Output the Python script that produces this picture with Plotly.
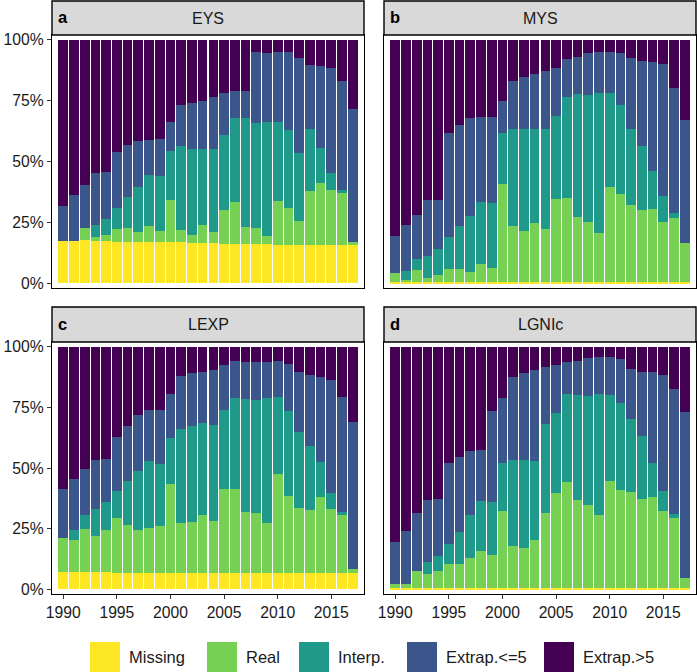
import plotly.graph_objects as go

years = list(range(1990, 2018))
categories = ["Missing", "Real", "Interp.", "Extrap.<=5", "Extrap.>5"]
colors = ["#FDE725", "#75D054", "#1F9A8A", "#3B568B", "#440154"]
panel_tags = ["a", "b", "c", "d"]
panel_titles = ["EYS", "MYS", "LEXP", "LGNIc"]
x_tickvals = [1990, 1995, 2000, 2005, 2010, 2015]
y_tickvals = [0, 25, 50, 75, 100]
y_ticktext = ["0%", "25%", "50%", "75%", "100%"]

# ---- EYS (percent shares) ----
eys_missing = [17.5, 17.3, 17.8, 17.5, 17.5, 17.1, 17.1, 17.1, 17.1, 16.8, 16.8, 16.8, 16.7, 16.6,
               16.4, 16.2, 16.2, 16.2, 16.2, 16.2, 15.8, 15.8, 15.8, 15.8, 15.8, 15.8, 15.6, 15.5]
eys_real = [0.0, 0.0, 4.8, 1.3, 2.4, 5.1, 5.5, 3.9, 6.5, 4.8, 17.4, 5.1, 3.2, 7.2,
            4.5, 13.8, 17.0, 6.7, 6.4, 3.1, 18.1, 15.1, 9.8, 22.2, 25.4, 22.5, 21.3, 1.5]
eys_interp = [0.0, 0.0, 0.0, 4.9, 6.4, 8.6, 13.0, 18.5, 20.9, 22.5, 20.3, 34.3, 35.3, 31.4,
              34.3, 31.0, 34.7, 45.0, 43.2, 47.1, 32.5, 32.1, 28.1, 25.3, 14.3, 6.9, 1.4, 0.0]
eys_ext5 = [14.3, 19.0, 17.9, 21.5, 19.2, 23.3, 21.2, 19.1, 14.4, 15.2, 11.8, 17.1, 18.8, 19.8,
            21.2, 17.1, 11.2, 11.2, 29.1, 28.3, 28.6, 32.0, 39.0, 26.4, 33.8, 43.1, 44.6, 54.6]
eys_extgt5 = [68.2, 63.7, 59.5, 54.8, 54.5, 45.9, 43.2, 41.4, 41.1, 40.7, 33.7, 26.7, 26.0, 25.0,
              23.6, 21.9, 20.9, 20.9, 5.1, 5.3, 5.0, 5.0, 7.3, 10.3, 10.7, 11.7, 17.1, 28.4]

# ---- MYS ----
mys_missing = [0.6] * 28
mys_real = [3.5, 0.8, 4.9, 1.5, 2.6, 5.2, 5.4, 4.1, 7.3, 5.8, 40.1, 22.8, 21.0, 24.3,
            21.5, 34.1, 34.5, 26.7, 24.7, 20.2, 38.9, 36.0, 31.5, 29.5, 29.9, 24.6, 26.2, 15.8]
mys_interp = [0.0, 3.7, 4.5, 9.1, 10.8, 13.0, 17.6, 23.0, 25.5, 26.6, 20.9, 39.8, 41.6, 38.3,
              41.2, 34.1, 41.3, 50.4, 52.1, 57.4, 38.7, 36.7, 31.1, 26.3, 15.8, 10.7, 2.1, 0.0]
mys_ext5 = [15.1, 18.9, 18.1, 22.8, 20.2, 43.1, 41.5, 40.0, 35.0, 35.5, 13.3, 19.8, 21.6, 22.6,
            23.7, 19.7, 15.7, 15.3, 17.0, 16.9, 16.9, 21.5, 29.5, 35.0, 44.7, 54.0, 51.4, 50.7]
mys_extgt5 = [80.8, 76.0, 71.9, 66.0, 65.8, 38.1, 34.9, 32.3, 31.6, 31.5, 25.1, 17.0, 15.2, 14.2,
              13.0, 11.5, 7.9, 7.0, 5.6, 4.9, 4.9, 5.2, 7.3, 8.6, 9.0, 10.1, 19.7, 32.9]

# ---- LEXP ----
lexp_missing = [6.9, 6.9, 6.9, 6.9, 6.9, 6.8, 6.8, 6.8, 6.7, 6.7, 6.7, 6.7, 6.7, 6.6,
                6.6, 6.7, 6.8, 6.8, 6.8, 6.7, 6.7, 6.7, 6.7, 6.7, 6.7, 6.7, 6.6, 6.6]
lexp_real = [14.3, 13.3, 17.9, 15.0, 17.4, 22.6, 19.6, 17.5, 18.6, 19.4, 36.5, 20.8, 21.1, 23.9,
             21.5, 34.8, 34.5, 25.0, 24.7, 20.7, 40.8, 31.7, 26.6, 25.9, 31.4, 26.3, 23.9, 1.7]
lexp_interp = [0.0, 4.4, 5.7, 11.0, 11.7, 11.0, 18.2, 24.4, 27.4, 25.5, 19.0, 38.5, 39.7, 37.9,
               39.6, 32.4, 37.7, 46.6, 46.5, 51.6, 31.6, 35.1, 31.6, 26.5, 14.2, 6.5, 1.4, 0.0]
lexp_ext5 = [20.1, 20.7, 18.9, 20.6, 17.9, 22.5, 22.7, 23.1, 21.2, 22.3, 18.5, 21.9, 21.6, 21.4,
             22.7, 18.5, 15.1, 15.4, 15.8, 14.8, 15.0, 19.6, 24.6, 29.2, 35.3, 47.0, 47.5, 60.5]
lexp_extgt5 = [58.7, 54.7, 50.6, 46.5, 46.1, 37.1, 32.7, 28.2, 26.1, 26.1, 19.3, 12.1, 10.9, 10.2,
               9.6, 7.6, 5.9, 6.2, 6.2, 6.2, 5.9, 6.9, 10.5, 11.7, 12.4, 13.5, 20.6, 31.2]

# ---- LGNIc ----
lgni_missing = [0.6] * 28
lgni_real = [1.7, 1.7, 7.0, 5.6, 6.8, 9.6, 9.6, 12.1, 15.2, 13.4, 31.7, 17.1, 16.5, 19.5,
             30.9, 39.2, 43.6, 36.4, 34.3, 29.9, 44.1, 40.3, 39.6, 36.8, 37.4, 31.7, 28.8, 4.2]
lgni_interp = [0.0, 0.0, 0.0, 4.9, 6.2, 8.6, 13.2, 18.1, 20.5, 22.0, 19.8, 35.5, 36.1, 32.9,
               36.5, 32.7, 36.3, 43.1, 44.7, 50.0, 35.4, 36.0, 30.0, 25.7, 14.0, 8.1, 1.8, 0.0]
lgni_ext5 = [17.1, 21.5, 23.9, 25.9, 23.5, 33.1, 31.2, 26.4, 21.3, 37.5, 26.9, 34.4, 36.1, 37.4,
             23.6, 20.1, 13.3, 14.0, 15.9, 15.4, 15.8, 18.0, 20.7, 26.7, 37.7, 47.8, 51.2, 68.4]
lgni_extgt5 = [80.6, 76.2, 68.5, 63.0, 62.9, 48.1, 45.4, 42.8, 42.4, 26.5, 21.0, 12.4, 10.7, 9.6,
               8.4, 7.4, 6.2, 5.9, 4.5, 4.1, 4.1, 5.1, 9.1, 10.2, 10.3, 11.8, 17.6, 26.8]

panels = [
    [eys_missing, eys_real, eys_interp, eys_ext5, eys_extgt5],
    [mys_missing, mys_real, mys_interp, mys_ext5, mys_extgt5],
    [lexp_missing, lexp_real, lexp_interp, lexp_ext5, lexp_extgt5],
    [lgni_missing, lgni_real, lgni_interp, lgni_ext5, lgni_extgt5],
]

W, H = 697, 672
FONT = "Liberation Sans, Arial, Helvetica, sans-serif"
TXT = "#1a1a1a"

# pixel layout of panels (left, right), (top, bottom, strip top)
px_cols = [(52, 364), (384, 696)]
px_rows = [(35, 288, 1), (342, 594, 307)]

fig = go.Figure()
layout = dict(
    width=W, height=H,
    margin=dict(l=0, r=0, t=0, b=0, pad=0, autoexpand=False),
    paper_bgcolor="white", plot_bgcolor="white",
    barmode="stack", bargap=0.1,
    showlegend=False,
    font=dict(family=FONT, color=TXT, size=15.7),
)
shapes = []
annotations = []

for i in range(4):
    r, c = divmod(i, 2)
    xl, xr = px_cols[c]
    yt, yb, st = px_rows[r]
    suffix = "" if i == 0 else str(i + 1)
    xname, yname = "x" + suffix, "y" + suffix
    for k, cat in enumerate(categories):
        fig.add_trace(go.Bar(
            x=years, y=panels[i][k], name=cat,
            marker=dict(color=colors[k], line=dict(width=0)),
            xaxis=xname, yaxis=yname, showlegend=False,
        ))
    bottom = (r == 1)
    left = (c == 0)
    layout["xaxis" + suffix] = dict(
        domain=[xl / W, xr / W], anchor=yname, automargin=False,
        range=[1988.95, 2018.05],
        tickmode="array", tickvals=x_tickvals,
        showticklabels=bottom, ticks="outside" if bottom else "",
        ticklen=4, tickwidth=1.2, tickcolor="#333333",
        tickfont=dict(size=15.7, color=TXT),
        showgrid=False, zeroline=False,
        showline=True, mirror=True, linecolor="black", linewidth=1.4,
    )
    layout["yaxis" + suffix] = dict(
        domain=[1 - yb / H, 1 - yt / H], anchor=xname, automargin=False,
        range=[-2, 102],
        tickmode="array", tickvals=y_tickvals, ticktext=y_ticktext,
        showticklabels=left, ticks="outside" if left else "",
        ticklen=4, tickwidth=1.2, tickcolor="#333333",
        tickfont=dict(size=15.7, color=TXT),
        showgrid=False, zeroline=False,
        showline=True, mirror=True, linecolor="black", linewidth=1.4,
    )
    # strip
    shapes.append(dict(type="rect", xref="paper", yref="paper",
                       x0=xl / W, x1=xr / W, y0=1 - yt / H, y1=1 - st / H,
                       fillcolor="#D9D9D9", line=dict(color="black", width=1.4), layer="above"))
    ymid = 1 - ((st + yt) / 2) / H
    annotations.append(dict(xref="paper", yref="paper", x=((xl + xr) / 2) / W, y=ymid,
                            text=panel_titles[i], showarrow=False, xanchor="center", yanchor="middle",
                            font=dict(size=16, color=TXT, family=FONT)))
    annotations.append(dict(xref="paper", yref="paper", x=(xl + 4) / W, y=ymid + 1 / H,
                            text="<b>" + panel_tags[i] + "</b>", showarrow=False,
                            xanchor="left", yanchor="middle",
                            font=dict(size=16.5, color="black", family=FONT)))

# legend (manual, big keys)
key_x = [90, 207, 299, 407, 544]
key_y0, key_y1 = 642, 672
for k, cat in enumerate(categories):
    shapes.append(dict(type="rect", xref="paper", yref="paper",
                       x0=key_x[k] / W, x1=(key_x[k] + 30) / W,
                       y0=1 - key_y1 / H, y1=1 - key_y0 / H,
                       fillcolor=colors[k], line=dict(width=0)))
    annotations.append(dict(xref="paper", yref="paper", x=(key_x[k] + 37) / W,
                            y=1 - 657 / H, text=cat, showarrow=False,
                            xanchor="left", yanchor="middle",
                            font=dict(size=16.5, color=TXT, family=FONT)))

layout["shapes"] = shapes
layout["annotations"] = annotations
fig.update_layout(**layout)
fig.write_html("out.html",
               config={"displayModeBar": False},
               post_script="document.body.style.margin='0px';document.body.style.overflow='hidden';")
